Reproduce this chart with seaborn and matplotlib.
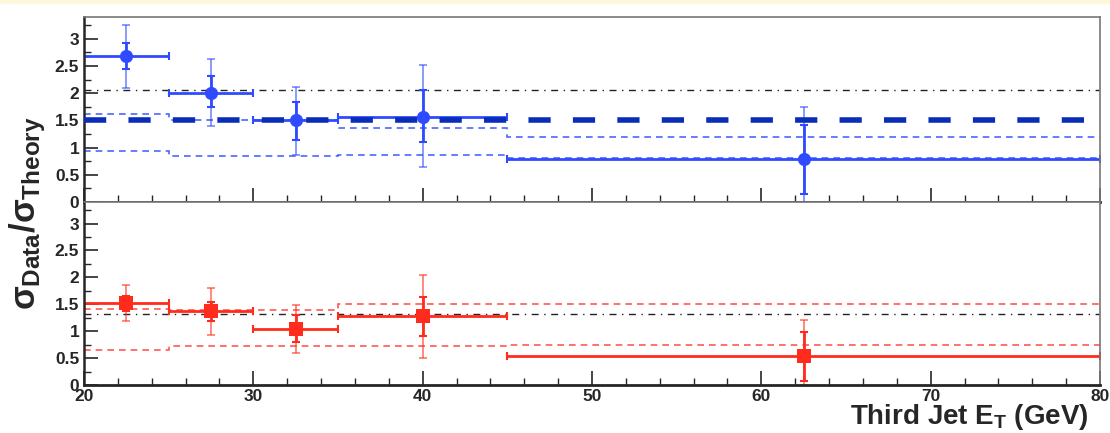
import matplotlib
matplotlib.use('Agg')
import matplotlib.pyplot as plt
import seaborn as sns
import numpy as np
import pandas as pd
from matplotlib.ticker import MultipleLocator
from matplotlib.patches import Rectangle

# bins in third jet E_T
edges = [20, 25, 30, 35, 45, 80]
x_center = [22.5, 27.5, 32.5, 40, 62.5]

# top panel (blue)
top_y = [2.68, 2.00, 1.50, 1.57, 0.79]
top_stat_up = [2.93, 2.31, 1.84, 2.05, 1.42]
top_stat_dn = [2.44, 1.74, 1.14, 1.11, 0.15]
top_tot_up = [3.26, 2.63, 2.12, 2.51, 1.74]
top_tot_dn = [2.09, 1.39, 0.87, 0.64, 0.0]
top_band_hi = [1.61, 1.51, 1.51, 1.36, 1.20]
top_band_lo = [0.93, 0.85, 0.85, 0.87, 0.80]
top_fit = 1.51
top_ref = 2.05

# bottom panel (red)
bot_y = [1.53, 1.37, 1.04, 1.28, 0.54]
bot_stat_up = [1.66, 1.55, 1.30, 1.64, 0.98]
bot_stat_dn = [1.38, 1.18, 0.79, 0.91, 0.07]
bot_tot_up = [1.86, 1.80, 1.49, 2.05, 1.21]
bot_tot_dn = [1.18, 0.93, 0.60, 0.51, 0.0]
bot_band_hi = [1.41, 1.40, 1.40, 1.51, 1.51]
bot_band_lo = [0.65, 0.72, 0.72, 0.72, 0.75]
bot_ref = 1.32

sns.set_style('ticks')
plt.rcParams['font.family'] = ['Liberation Sans', 'DejaVu Sans']
plt.rcParams['mathtext.fontset'] = 'custom'
plt.rcParams['mathtext.rm'] = 'Liberation Sans:bold'
plt.rcParams['mathtext.it'] = 'Liberation Sans:bold'
plt.rcParams['mathtext.bf'] = 'Liberation Sans:bold'

fig = plt.figure(figsize=(11.1, 4.33), dpi=100)
fig.patches.append(Rectangle((0, 0.993), 1, 0.007, transform=fig.transFigure,
                             color='#fdf7dc', zorder=0))
ax_top = fig.add_axes([0.0757, 0.5335, 0.9153, 0.4272])
ax_bot = fig.add_axes([0.0757, 0.1109, 0.9153, 0.4226])

x = np.array(x_center)
xerr = [x - np.array(edges[:-1]), np.array(edges[1:]) - x]


def draw_panel(ax, y, s_up, s_dn, t_up, t_dn, hi, lo, ref, col, band_col, marker):
    y = np.array(y)
    ax.stairs(hi, edges, baseline=None, color=band_col, lw=1.2, ls=(0, (4, 3)))
    ax.stairs(lo, edges, baseline=None, color=band_col, lw=1.2, ls=(0, (4, 3)))
    ax.axhline(ref, color='#222222', lw=1.0, ls=(0, (5, 4, 1, 4)))
    ax.errorbar(x, y, yerr=[y - np.array(t_dn), np.array(t_up) - y], fmt='none',
                ecolor=col, alpha=0.6, elinewidth=1.3, capsize=3, capthick=1.3)
    ax.errorbar(x, y, yerr=[y - np.array(s_dn), np.array(s_up) - y], xerr=xerr,
                fmt='none', ecolor=col, elinewidth=2, capsize=3, capthick=1.5)
    df = pd.DataFrame({'x': x, 'y': y})
    sns.scatterplot(data=df, x='x', y='y', ax=ax, color=col, marker=marker,
                    s=90, edgecolor=col, linewidth=0, zorder=5)
    ax.set_xlim(20, 80)
    ax.set_ylim(0, 3.4)
    ax.xaxis.set_major_locator(MultipleLocator(10))
    ax.xaxis.set_minor_locator(MultipleLocator(2))
    ax.yaxis.set_major_locator(MultipleLocator(0.5))
    ax.yaxis.set_minor_locator(MultipleLocator(0.25))
    ax.tick_params(which='both', direction='in', top=False, right=False)
    ax.tick_params(which='major', length=10, width=1.2, labelsize=12.5)
    ax.tick_params(which='minor', length=5, width=1.0)
    ax.set_xlabel('')
    ax.set_ylabel('')
    for sp in ax.spines.values():
        sp.set_visible(True)
        sp.set_linewidth(1.2)
    ax.spines['top'].set_color('#777777')
    ax.spines['right'].set_color('#777777')
    ax.spines['bottom'].set_linewidth(2)
    ax.spines['left'].set_linewidth(1.8)
    ax.yaxis.set_major_formatter(plt.FuncFormatter(lambda v, p: f'{v:g}'))


draw_panel(ax_top, top_y, top_stat_up, top_stat_dn, top_tot_up, top_tot_dn,
           top_band_hi, top_band_lo, top_ref, '#2f4bff', '#4a66ff', 'o')
ax_top.axhline(top_fit, color='#0a2db8', lw=4, ls=(0, (4, 4)), zorder=3)
ax_top.tick_params(labelbottom=False)

draw_panel(ax_bot, bot_y, bot_stat_up, bot_stat_dn, bot_tot_up, bot_tot_dn,
           bot_band_hi, bot_band_lo, bot_ref, '#ff2b1c', '#ff5a4f', 's')
ax_bot.tick_params(axis='x', which='major', pad=3)

for lab in ax_top.get_yticklabels() + ax_bot.get_yticklabels() + ax_bot.get_xticklabels():
    lab.set_fontweight('bold')

fig.text(0.025, 0.508, r'$\sigma_{Data}/\sigma_{Theory}$', rotation=90,
         ha='center', va='center', fontsize=25)
fig.text(0.981, 0.02, r'Third Jet E$_{T}$ (GeV)', ha='right', va='baseline',
         fontsize=20, fontweight='bold')

fig.savefig('out.png', dpi=100)
